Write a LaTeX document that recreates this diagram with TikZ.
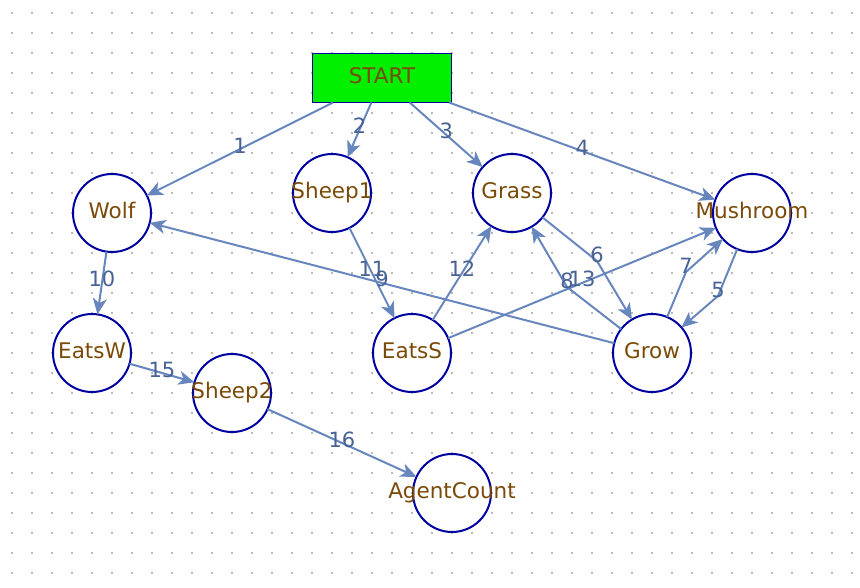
\documentclass[tikz,border=0pt]{standalone}
\usepackage{fontspec}
\setmainfont{DejaVu Sans}
\usetikzlibrary{arrows.meta,calc}
\definecolor{navy}{RGB}{0,0,160}
\definecolor{edgec}{RGB}{104,134,190}
\definecolor{labc}{RGB}{72,98,150}
\definecolor{txtc}{RGB}{122,74,8}
\definecolor{startg}{RGB}{0,240,0}
\definecolor{dotc}{RGB}{185,185,185}
\begin{document}
\begin{tikzpicture}[x=1pt,y=-1pt,
 state/.style={circle, draw=navy, line width=2pt, fill=white, minimum size=78pt, inner sep=0pt, outer sep=0pt},
 startbox/.style={rectangle, draw=navy, line width=1.8pt, fill=startg, minimum width=139pt, minimum height=49pt, inner sep=0pt, outer sep=0pt},
 nametxt/.style={text=txtc, font=\fontsize{21.5}{21.5}\selectfont, anchor=base, inner sep=0pt, yshift=-5.5pt},
 conn/.style={draw=edgec, line width=2pt, -{Stealth[length=16pt,width=14pt,inset=4.5pt]}},
 elab/.style={text=labc, font=\fontsize{21}{21}\selectfont, anchor=base, inner sep=0pt, yshift=-4pt},
 blab/.style={text=labc, font=\fontsize{21}{21}\selectfont, anchor=base, inner sep=0pt, yshift=-1.5pt}]

\useasboundingbox (0,0) rectangle (860,588);
\fill[white] (0,0) rectangle (860,588);
\foreach \i in {0,...,42} {\foreach \j in {0,...,28} {\fill[dotc] ({11+20*\i},{12+20*\j}) rectangle ++(2,2);}}

% nodes
\node[startbox] (start) at (382,78) {};
\node[state] (wolf) at (112,213) {};
\node[state] (sheep1) at (332,193) {};
\node[state] (grass) at (512,193) {};
\node[state] (mush) at (752,213) {};
\node[state] (eatsw) at (92,353) {};
\node[state] (eatss) at (412,353) {};
\node[state] (grow) at (652,353) {};
\node[state] (sheep2) at (232,393) {};
\node[state] (agent) at (452,493) {};

% bend points
\coordinate (b6) at (597,261);
\coordinate (b8) at (567,287);
\coordinate (b7) at (686,272);
\coordinate (b5) at (718,296);

% connectors
\draw[conn] (start) -- node[elab] (l1) {1} (wolf);
\draw[conn] (start) -- node[elab] (l2) {2} (sheep1);
\draw[conn] (start) -- node[elab] (l3) {3} (grass);
\draw[conn] (start) -- node[elab] (l4) {4} (mush);
\draw[conn] (wolf) -- node[elab] (l10) {10} (eatsw);
\draw[conn] (sheep1) -- node[elab] (l11) {11} (eatss);
\draw[conn] (grow) -- node[elab] (l9) {9} (wolf);
\draw[conn] (eatss) -- node[elab] (l12) {12} (grass);
\draw[conn] (eatss) -- node[elab] (l13) {13} (mush);
\draw[conn] (eatsw) -- node[elab] (l15) {15} (sheep2);
\draw[conn] (sheep2) -- node[elab] (l16) {16} (agent);
\draw[conn] (grass) -- (b6) -- (grow);
\draw[conn] (grow) -- (b8) -- (grass);
\draw[conn] (grow) -- (b7) -- (mush);
\draw[conn] (mush) -- (b5) -- (grow);
\node[blab] (l6) at (b6) {6};
\node[blab] (l8) at (b8) {8};
\node[blab] (l7) at (b7) {7};
\node[blab] (l5) at (b5) {5};

% texts
\node[nametxt] (start-t) at (start) {START};
\node[nametxt] (wolf-t) at (wolf) {Wolf};
\node[nametxt] (sheep1-t) at (sheep1) {Sheep1};
\node[nametxt] (grass-t) at (grass) {Grass};
\node[nametxt] (mush-t) at (mush) {Mushroom};
\node[nametxt] (eatsw-t) at (eatsw) {EatsW};
\node[nametxt] (eatss-t) at (eatss) {EatsS};
\node[nametxt] (grow-t) at (grow) {Grow};
\node[nametxt] (sheep2-t) at (sheep2) {Sheep2};
\node[nametxt] (agent-t) at (agent) {AgentCount};
\end{tikzpicture}
\end{document}
